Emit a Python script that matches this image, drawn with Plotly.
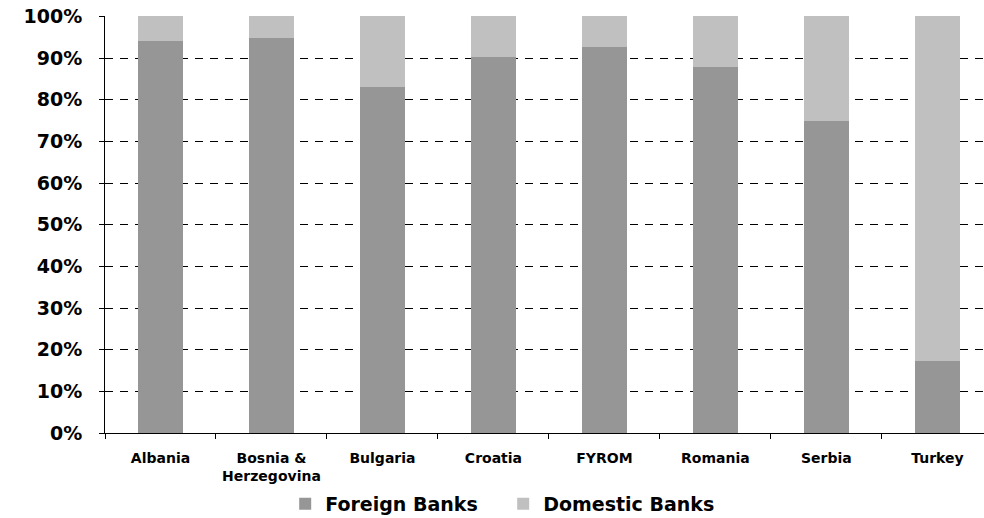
import plotly.graph_objects as go

categories = ["Albania", "Bosnia &<br>Herzegovina", "Bulgaria", "Croatia", "FYROM", "Romania", "Serbia", "Turkey"]
foreign = [94.0, 94.7, 83.0, 90.2, 92.6, 87.8, 74.8, 17.3]
domestic = [round(100 - v, 1) for v in foreign]

FONT = "DejaVu Sans"

fig = go.Figure()
fig.add_trace(go.Bar(x=categories, y=[v / 100 for v in foreign], name="Foreign Banks",
                     marker=dict(color="#969696", line=dict(width=0))))
fig.add_trace(go.Bar(x=categories, y=[v / 100 for v in domestic], name="Domestic Banks",
                     marker=dict(color="#c0c0c0", line=dict(width=0))))

fig.update_layout(
    width=984, height=518,
    margin=dict(l=105, r=0, t=16, b=85, autoexpand=False),
    barmode="stack", bargap=0.59,
    plot_bgcolor="white", paper_bgcolor="white",
    font=dict(family=FONT, color="black", weight="bold"),
    showlegend=True,
    legend=dict(orientation="h", x=0.205, xanchor="left", y=-0.170, yanchor="middle",
                font=dict(size=19, family=FONT, weight="bold"), traceorder="normal",
                entrywidth=173, entrywidthmode="pixels"),
    xaxis=dict(range=[-0.5, 7.42], showline=True, linecolor="black", linewidth=1,
               ticks="outside", ticklen=5, tickcolor="black", tickson="boundaries",
               tickfont=dict(size=14, family=FONT, weight="bold"), showgrid=False,
               ticklabelstandoff=12, automargin=False),
    yaxis=dict(range=[0, 1.0008], tickformat=".0%", tickvals=[i / 10 for i in range(11)],
               showline=True, linecolor="black",
               linewidth=1, ticks="outside", ticklen=5, tickcolor="black",
               tickfont=dict(size=19, family=FONT, weight="bold"), ticklabelstandoff=13,
               showgrid=True, gridcolor="black", gridwidth=1, griddash="8px,7px",
               zeroline=False, automargin=False),
)

fig.write_html("out.html")
